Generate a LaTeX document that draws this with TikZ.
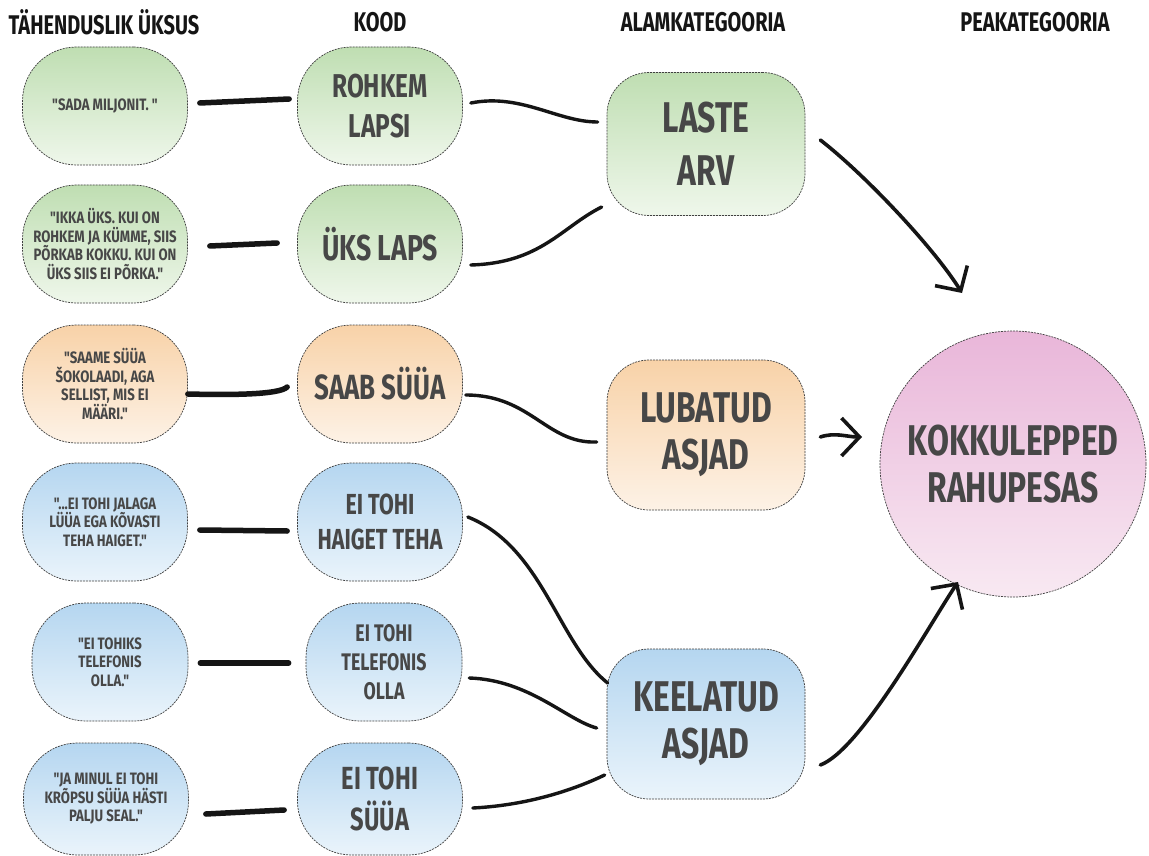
\documentclass[tikz,border=0pt]{standalone}
\usepackage{fontspec}
\usetikzlibrary{arrows.meta,calc}
\newfontfamily\bb[FakeStretch=0.74]{Fira Sans}
\newfontfamily\bbq[FakeStretch=0.8]{Fira Sans}
\definecolor{txt}{HTML}{474747}
\definecolor{gTop}{HTML}{BFDEB2}
\definecolor{gBot}{HTML}{EFF7EB}
\definecolor{oTop}{HTML}{F8D2A8}
\definecolor{oBot}{HTML}{FDF2E6}
\definecolor{bTop}{HTML}{B5D6F0}
\definecolor{bBot}{HTML}{EAF4FB}
\definecolor{pTop}{HTML}{E9B6D9}
\definecolor{pBot}{HTML}{F8E9F2}
\definecolor{ink}{HTML}{151515}
\tikzset{
  card/.style={draw=black!75, dash pattern=on 2pt off 1pt, line width=0.7pt,
    align=center, text=txt, inner sep=2pt, font=\bb\bfseries},
  qcard/.style={card, minimum width=165pt, minimum height=118pt, rounded corners=54pt},
  acard/.style={card, minimum width=198pt, minimum height=150pt, rounded corners=42pt},
  green/.style={top color=gTop, bottom color=gBot},
  orange/.style={top color=oTop, bottom color=oBot},
  blue/.style={top color=bTop, bottom color=bBot},
  pink/.style={top color=pTop, bottom color=pBot},
  head/.style={font=\bb\bfseries\fontsize{27}{29}\selectfont, text=ink},
  quote/.style={font=\bbq\bfseries\fontsize{16.5}{18.5}\selectfont},
  brush/.style={draw=ink, line width=5.5pt, line cap=round},
  curve/.style={draw=ink, line width=3.4pt, line cap=round},
  arr/.style={draw=ink, line width=3.6pt, line cap=round,
    -{Straight Barb[length=18pt,width=38pt,line width=3.6pt]}},
}
\begin{document}
\begin{tikzpicture}[x=1pt,y=-1pt]
\useasboundingbox[fill=white] (0,0) rectangle (1149,856);

% headers
\node[head] (h1) at (104,22) {TÄHENDUSLIK ÜKSUS};
\node[head] (h2) at (380,22) {KOOD};
\node[head] (h3) at (703,22) {ALAMKATEGOORIA};
\node[head] (h4) at (1035,22) {PEAKATEGOORIA};

% column 1
\node[qcard, green, quote] (q1) at (105,106) {"SADA MILJONIT. "};
\node[qcard, green, quote] (q2) at (105,244) {"IKKA ÜKS. KUI ON\\ROHKEM JA KÜMME, SIIS\\PÕRKAB KOKKU. KUI ON\\ÜKS SIIS EI PÕRKA."};
\node[qcard, orange, quote] (q3) at (105,384) {"SAAME SÜÜA\\ŠOKOLAADI, AGA\\SELLIST, MIS EI\\MÄÄRI."};
\node[qcard, blue, quote] (q4) at (105,522) {"...EI TOHI JALAGA\\LÜÜA EGA KÕVASTI\\TEHA HAIGET."};
\node[qcard, blue, quote, minimum width=156pt] (q5) at (110,662) {"EI TOHIKS\\TELEFONIS\\OLLA."};
\node[qcard, blue, quote, minimum height=112pt] (q6) at (106,799) {"JA MINUL EI TOHI\\KRÕPSU SÜÜA HÄSTI\\PALJU SEAL."};

% column 2
\node[qcard, green, font=\bb\bfseries\fontsize{33}{40}\selectfont] (c1) at (380,106) {ROHKEM\\LAPSI};
\node[qcard, green, font=\bb\bfseries\fontsize{36}{40}\selectfont] (c2) at (380,244) {ÜKS LAPS};
\node[qcard, orange, font=\bb\bfseries\fontsize{35}{40}\selectfont] (c3) at (380,384) {SAAB SÜÜA};
\node[qcard, blue, font=\bb\bfseries\fontsize{29}{35}\selectfont] (c4) at (380,522) {EI TOHI\\HAIGET TEHA};
\node[qcard, blue, minimum width=156pt, font=\bb\bfseries\fontsize{24}{29}\selectfont] (c5) at (384,662) {EI TOHI\\TELEFONIS\\OLLA};
\node[qcard, blue, minimum height=112pt, font=\bb\bfseries\fontsize{32}{41}\selectfont] (c6) at (380,799) {EI TOHI\\SÜÜA};

% column 3
\node[acard, green, minimum height=143pt, font=\bb\bfseries\fontsize{43}{53}\selectfont] (a1) at (706,144) {LASTE\\ARV};
\node[acard, orange, font=\bb\bfseries\fontsize{43}{47}\selectfont] (a2) at (706,435) {LUBATUD\\ASJAD};
\node[acard, blue, font=\bb\bfseries\fontsize{43}{47}\selectfont] (a3) at (706,724) {KEELATUD\\ASJAD};

% main category
\node[card, pink, circle, minimum size=266pt, font=\bb\bfseries\fontsize{43}{47}\selectfont] (p) at (1013,464) {KOKKULEPPED\\RAHUPESAS};

% short brush strokes column 1 -> column 2
\draw[brush] ($(q1.east)+(12,-3)$) -- ($(c1.west)+(-8,-7)$);
\draw[brush] ($(q2.east)+(22,2)$) -- ($(c2.west)+(-20,-1)$);
\draw[brush] ($(q3.east)+(0,10)$) .. controls +(40,1) and +(-8,8) .. ($(c3.west)+(-10,3)$);
\draw[brush] ($(q4.east)+(12,8)$) -- ($(c4.west)+(-10,9)$);
\draw[brush] ($(q5.east)+(12,1)$) -- ($(c5.west)+(-17,1)$);
\draw[brush] ($(q6.east)+(17,15)$) -- ($(c6.west)+(-13,11)$);

% curves column 2 -> column 3
\draw[curve] ($(c1.east)+(8,-3)$) .. controls +(50,-10) and +(-40,0) .. ($(a1.west)+(-9,-22)$);
\draw[curve] ($(c2.east)+(8,21)$) .. controls +(70,-2) and +(-40,20) .. ($(a1.west)+(-5,63)$);
\draw[curve] ($(c3.east)+(3,11)$) .. controls +(65,0) and +(-50,2) .. ($(a2.west)+(-10,7)$);
\draw[curve] ($(c4.east)+(5,-5)$) .. controls +(75,30) and +(-50,-40) .. ($(a3.west)+(1,-41)$);
\draw[curve] ($(c5.east)+(7,16)$) .. controls +(60,2) and +(-30,-8) .. ($(a3.west)+(-10,4)$);
\draw[curve] ($(c6.east)+(10,9)$) .. controls +(60,-3) and +(-25,12) .. ($(a3.west)+(-2,51)$);

% arrows to main category
\draw[arr] ($(a1.east)+(15,-4)$) .. controls +(45,35) and +(-28,-45) .. ($(p.center)+(-51,-171)$);
\draw[arr] ($(a2.east)+(15,2)$) .. controls +(15,-5) and +(-15,0) .. ($(p.center)+(-151,-27)$);
\draw[arr] ($(a3.east)+(15,41)$) .. controls +(40,-15) and +(-30,45) .. ($(p.center)+(-55,118)$);
\end{tikzpicture}
\end{document}
